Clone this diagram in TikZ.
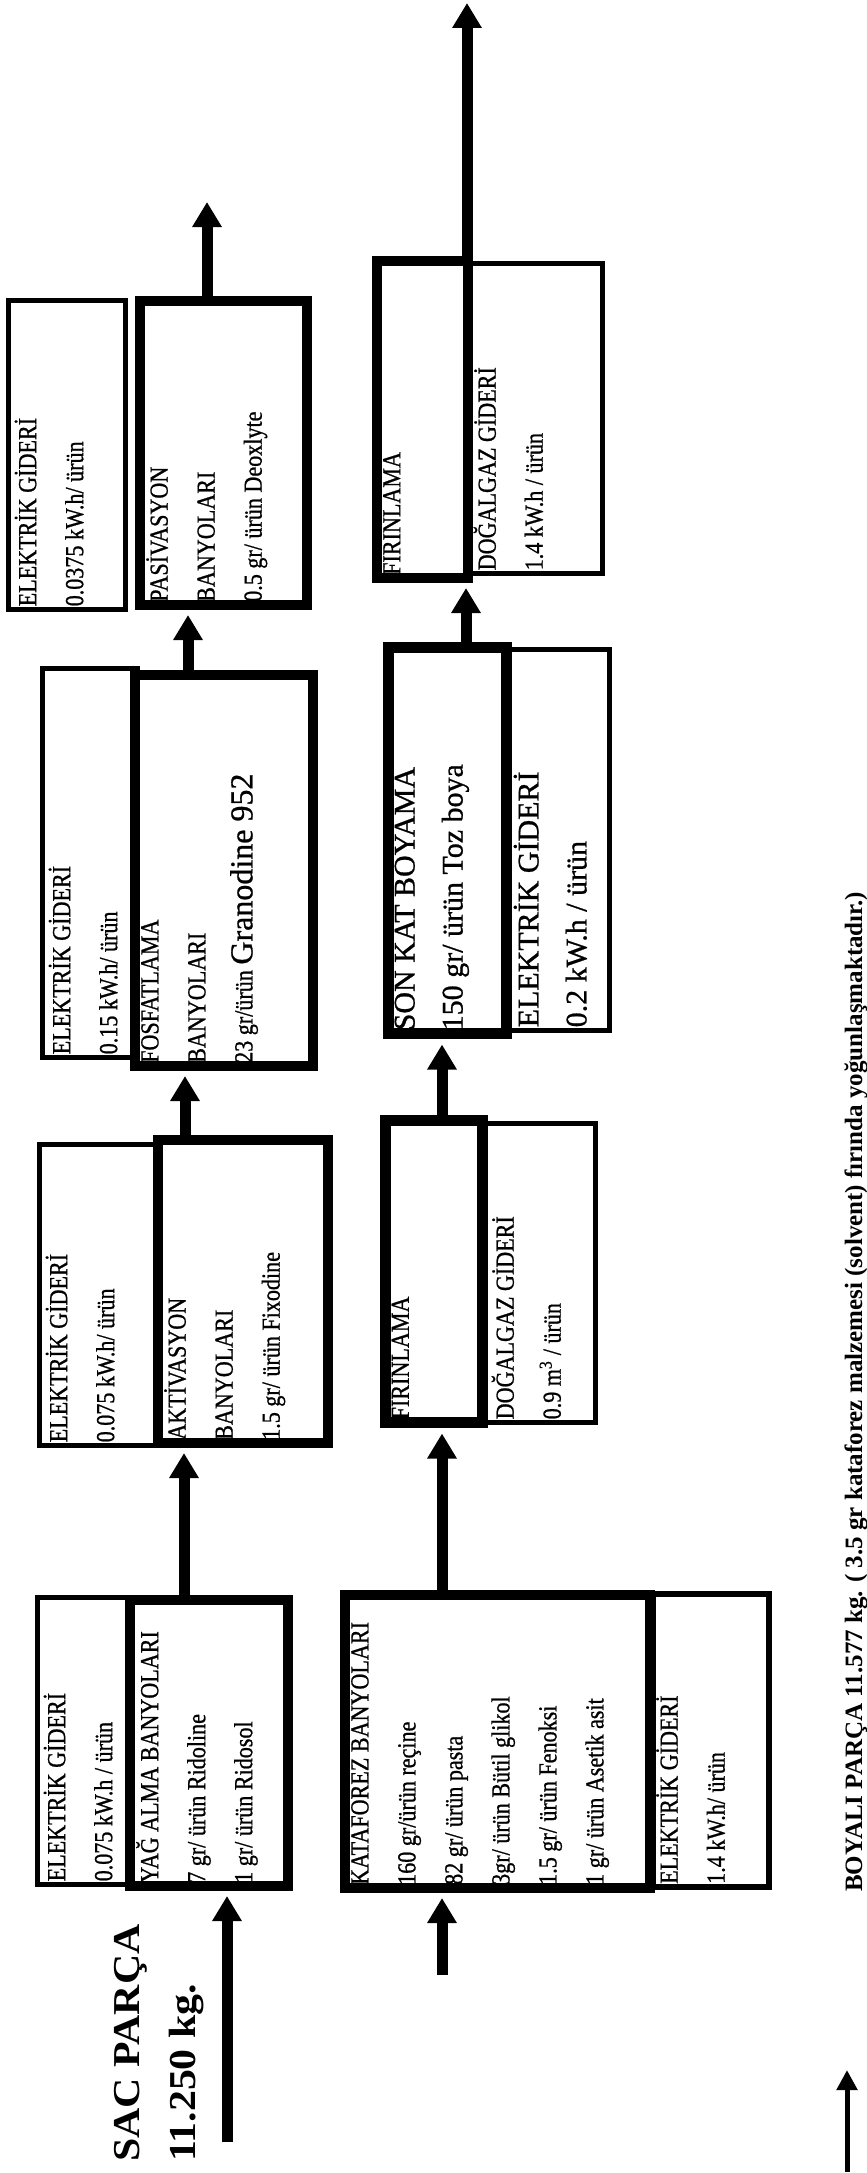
\documentclass[tikz,border=0pt]{standalone}
\usepackage{fontspec}
\setmainfont{Liberation Serif}
\newfontfamily\narrowserif[FakeStretch=0.85,FakeBold=0.8]{Liberation Serif}
\newfontfamily\plainserif[FakeBold=0.8]{Liberation Serif}
\newfontfamily\wideserif[FakeStretch=1.1]{Liberation Serif}
\usetikzlibrary{arrows.meta}

\tikzset{
  ebox/.style={draw, line width=5pt, rotate=90, inner sep=0pt},
  bath/.style={draw, line width=10pt, rotate=90, inner sep=0pt},
  boxtext/.style={rotate=90, anchor=north west, inner sep=0pt, align=left,
    font=\narrowserif\fontsize{26}{47}\selectfont},
  bigtext/.style={boxtext, font=\plainserif\fontsize{30}{48}\selectfont},
  flow/.style={line width=11pt, -{Triangle[length=25pt,width=28pt]}},
  result/.style={rotate=90, anchor=base west, inner sep=0pt,
    font=\wideserif\bfseries\fontsize{38}{40}\selectfont},
}

\begin{document}
\begin{tikzpicture}[x=1pt, y=-1pt]
\path[use as bounding box, fill=white] (0,0) rectangle (867,2173);

% elektrik gideri boxes
\node[ebox, minimum width=309pt, minimum height=117pt] (e5) at (67,455) {};
\node[ebox, minimum width=389pt, minimum height=95pt] (e3) at (90,863) {};
\node[ebox, minimum width=301pt, minimum height=116pt] (e2) at (97.5,1295) {};
\node[ebox, minimum width=287pt, minimum height=93pt] (e1) at (84,1741) {};
\node[ebox, line width=6pt, minimum width=293pt, minimum height=116pt] (e6) at (711,1740.5) {};
\node[ebox, minimum width=299pt, minimum height=110pt] (dog1) at (540.5,1273) {};
\node[ebox, minimum width=381pt, minimum height=102pt] (e4) at (558.5,840) {};
\node[ebox, minimum width=310pt, minimum height=135pt] (dog2) at (535,418.5) {};

% process boxes
\node[bath, minimum width=304pt, minimum height=167pt] (pas) at (223.5,453) {};
\node[bath, minimum width=391pt, minimum height=178pt] (fos) at (224,870.5) {};
\node[bath, minimum width=303pt, minimum height=170pt] (akt) at (243,1291.5) {};
\node[bath, minimum width=286pt, minimum height=158pt] (yag) at (209,1743) {};
\node[bath, minimum width=293pt, minimum height=305pt] (kat) at (497.5,1741.5) {};
\node[bath, line width=11pt, minimum width=302pt, minimum height=97pt] (fir1) at (434,1271.5) {};
\node[bath, line width=11pt, minimum width=386pt, minimum height=118pt] (son) at (447.5,840.5) {};
\node[bath, minimum width=317pt, minimum height=91pt] (fir2) at (422.5,419.5) {};

% texts
\node[boxtext] (e5txt) at ([xshift=8.5pt,yshift=5.5pt]e5.north west)
  {ELEKTRİK GİDERİ\\0.0375 kW.h/ ürün};
\node[boxtext] (pastxt) at ([xshift=11pt,yshift=8pt]pas.north west)
  {PASİVASYON\\BANYOLARI\\0.5 gr/ ürün Deoxlyte};
\node[boxtext] (e3txt) at ([xshift=8.5pt,yshift=5.5pt]e3.north west)
  {ELEKTRİK GİDERİ\\0.15 kW.h/ ürün};
\node[boxtext] (fostxt) at ([xshift=11pt,yshift=8pt]fos.north west)
  {FOSFATLAMA\\BANYOLARI\\23 gr/ürün {\plainserif\fontsize{32}{47}\selectfont Granodine 952}};
\node[boxtext] (e2txt) at ([xshift=8.5pt,yshift=5.5pt]e2.north west)
  {ELEKTRİK GİDERİ\\0.075 kW.h/ ürün};
\node[boxtext] (akttxt) at ([xshift=11pt,yshift=8pt]akt.north west)
  {AKTİVASYON\\BANYOLARI\\1.5 gr/ ürün Fixodine};
\node[boxtext] (e1txt) at ([xshift=8.5pt,yshift=5.5pt]e1.north west)
  {ELEKTRİK GİDERİ\\0.075 kW.h / ürün};
\node[boxtext] (yagtxt) at ([xshift=11pt,yshift=8pt]yag.north west)
  {YAĞ ALMA BANYOLARI\\7 gr/ ürün Ridoline\\1 gr/ ürün Ridosol};
\node[boxtext] (kattxt) at ([xshift=11pt,yshift=8pt]kat.north west)
  {KATAFOREZ BANYOLARI\\160 gr/ürün reçine\\82 gr/ ürün pasta\\3gr/ ürün Bütil glikol\\1.5 gr/ ürün Fenoksi\\1 gr/ ürün Asetik asit};
\node[boxtext] (e6txt) at ([xshift=6pt,yshift=6pt]e6.north west)
  {ELEKTRİK GİDERİ\\1.4 kW.h/ ürün};
\node[boxtext] (fir1txt) at ([xshift=11.5pt,yshift=8.5pt]fir1.north west) {FIRINLAMA};
\node[boxtext] (dog1txt) at ([xshift=8.5pt,yshift=5.5pt]dog1.north west)
  {DOĞALGAZ GİDERİ\\0.9 m\textsuperscript{3} / ürün};
\node[bigtext] (sontxt) at ([xshift=11.5pt,yshift=8.5pt]son.north west)
  {SON KAT BOYAMA\\150 gr/ ürün Toz boya};
\node[bigtext] (e4txt) at ([xshift=8.5pt,yshift=5.5pt]e4.north west)
  {ELEKTRİK GİDERİ\\0.2 kW.h / ürün};
\node[boxtext] (fir2txt) at ([xshift=11pt,yshift=8pt]fir2.north west) {FIRINLAMA};
\node[boxtext] (dog2txt) at ([xshift=8.5pt,yshift=5.5pt]dog2.north west)
  {DOĞALGAZ GİDERİ\\1.4 kW.h / ürün};

% input, output and flow
\coordinate (in1) at (227,2142);
\coordinate (in2) at (442,1975);
\coordinate (out1) at (207,202);
\coordinate (out2) at (467,3);
\draw[flow, shorten >=5pt] (in1) -- (in1 |- yag.west);
\draw[flow, shorten >=5pt] (184,0 |- yag.east) -- (184,0 |- akt.west);
\draw[flow, shorten >=5pt] (185,0 |- akt.east) -- (185,0 |- fos.west);
\draw[flow, shorten >=5pt] (188,0 |- fos.east) -- (188,0 |- pas.west);
\draw[flow] (out1 |- pas.east) -- (out1);
\draw[flow, shorten >=5pt] (in2) -- (in2 |- kat.west);
\draw[flow, shorten >=5.5pt] (442,0 |- kat.east) -- (442,0 |- fir1.west);
\draw[flow, shorten >=5.5pt] (442,0 |- fir1.east) -- (442,0 |- son.west);
\draw[flow, shorten >=5pt] (466,0 |- son.east) -- (466,0 |- fir2.west);
\draw[flow] (out2 |- fir2.east) -- (out2);

\node[result] (sac) at (139,2162) {SAC PARÇA};
\node[result] (sackg) at (195,2162) {11.250 kg.};

\coordinate (key1) at (847,2172);
\coordinate (key2) at (847,2070);
\draw[line width=5pt, -{Triangle[length=20pt,width=20pt]}] (key1) -- (key2);
\node[result, font=\bfseries\fontsize{25}{30}\selectfont] (boyali) at (862,1892)
  {BOYALI PARÇA 11.577 kg. ( 3.5 gr kataforez malzemesi (solvent) fırında yoğunlaşmaktadır.)};
\end{tikzpicture}
\end{document}
